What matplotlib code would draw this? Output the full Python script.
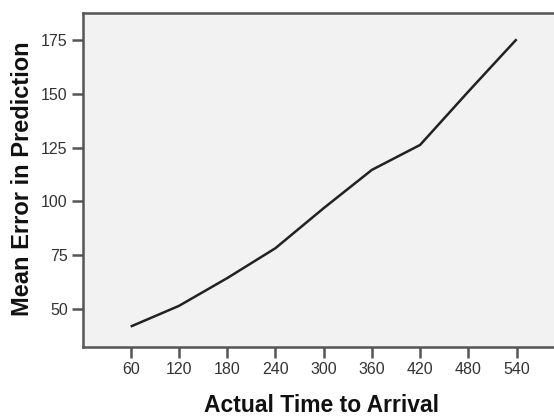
import matplotlib
matplotlib.use("Agg")
import matplotlib.pyplot as plt

time_to_arrival = [60, 120, 180, 240, 300, 360, 420, 480, 540]
mean_error = [41.8, 51.4, 64.3, 78.2, 96.8, 114.6, 126.2, 151.0, 175.3]
x_ticks = [60, 120, 180, 240, 300, 360, 420, 480, 540]
y_ticks = [50, 75, 100, 125, 150, 175]

plt.rcParams['font.family'] = ['Liberation Sans', 'DejaVu Sans']

fig = plt.figure(figsize=(5.54, 4.18), dpi=100)
W, H = 554, 418
left, right, top, bottom = 83, 600, 13, 347
ax = fig.add_axes([left / W, 1 - bottom / H, (right - left) / W, (bottom - top) / H])
ax.set_facecolor('#f2f2f2')
ax.plot(time_to_arrival, mean_error, color='#222222', lw=1.8, solid_capstyle='butt')

xmin = 0.7
xmax = xmin + (right - left) / 0.804
ax.set_xlim(xmin, xmax)
ax.set_ylim(32.3, 187.5)
ax.set_xticks(x_ticks)
ax.set_yticks(y_ticks)
for s in ['left', 'bottom', 'top']:
    ax.spines[s].set_color('#555555')
    ax.spines[s].set_linewidth(1.8)
ax.spines['right'].set_visible(False)
ax.tick_params(direction='out', length=8, width=1.8, color='#555555',
               labelsize=11.5, labelcolor='#333333', pad=3)
ax.set_xlabel('Actual Time to Arrival', fontsize=16.5, fontweight='bold', color='#111111', va='center')
ax.set_ylabel('Mean Error in Prediction', fontsize=17, fontweight='bold', color='#111111', va='center')
ax.xaxis.set_label_coords((322 - left) / (right - left), -(406 - bottom) / (bottom - top))
ax.yaxis.set_label_coords(-(left - 22.5) / (right - left), (bottom - 179) / (bottom - top))

fig.savefig('out.png', dpi=100)
